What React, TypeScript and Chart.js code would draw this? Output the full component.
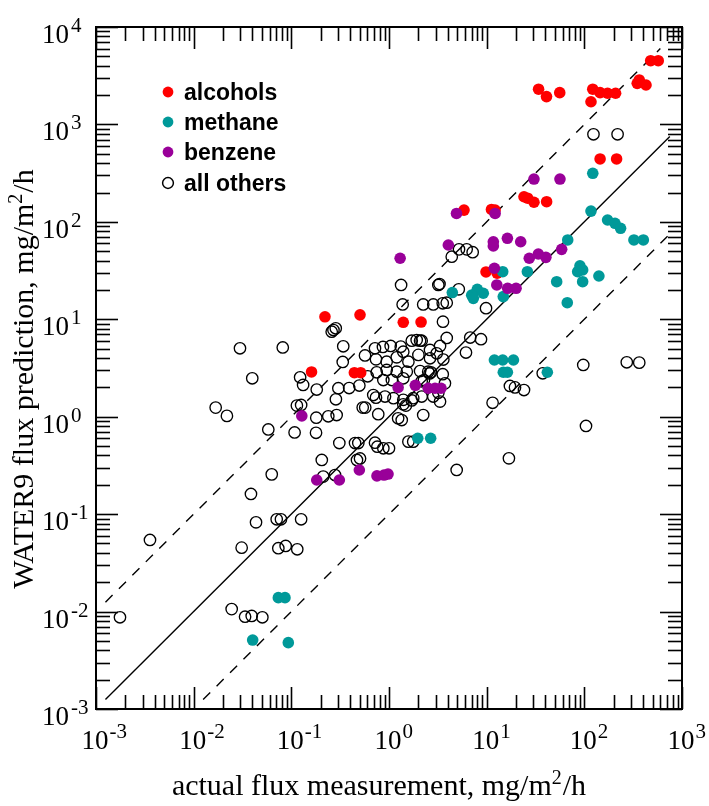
import { useEffect, useRef } from 'react';
import { Chart, registerables } from 'chart.js';

Chart.register(...registerables);

const X_MIN = 1e-3;
const X_MAX = 1e3;
const Y_MIN = 1e-3;
const Y_MAX = 1e4;
const xTickExponents = [-3, -2, -1, 0, 1, 2, 3];
const yTickExponents = [-3, -2, -1, 0, 1, 2, 3, 4];
const minorMultipliers = [2, 3, 4, 5, 6, 7, 8, 9];

const xTitle = 'actual flux measurement, mg/m';
const yTitle = 'WATER9 flux prediction, mg/m';
const titleSup = '2';
const titleTail = '/h';

const legendLabels = ['alcohols', 'methane', 'benzene', 'all others'];
const colors = ['#ff0000', '#009999', '#990099', '#000000'];

// reference lines (1:1 and factor 10)
const lineSolidX = [0.00125, 750];
const lineSolidY = [0.00125, 750];
const lineUpperX = [0.00125, 600];
const lineUpperY = [0.0125, 6000];
const lineLowerX = [0.0125, 720];
const lineLowerY = [0.00125, 72];

const alcoholsX = [34, 41, 56, 122, 145, 173, 209, 117, 348, 365, 428, 478, 571, 145, 214, 24.1, 26.3, 30.5, 41.1, 5.86, 11.2, 12.2, 9.85, 12.8, 1.4, 2.13, 0.221, 0.505, 0.161, 0.442, 0.513];
const alcoholsY = [2300, 1930, 2120, 2300, 2120, 2090, 2090, 1710, 2640, 2860, 2540, 4510, 4510, 442, 442, 181, 175, 159, 161, 132, 134, 132, 30.6, 29.8, 9.31, 9.37, 10.6, 11.1, 2.88, 2.83, 2.83];

const methaneX = [122, 117, 173, 206, 235, 322, 402, 67.6, 52.1, 90.2, 96.1, 85.5, 96.1, 141, 66.9, 26.1, 14.6, 8.02, 7.03, 7.3, 9.23, 14.8, 4.45, 12.0, 14.6, 18.8, 14.8, 16.3, 41.8, 1.97, 2.67, 0.0736, 0.0861, 0.0402, 0.0931];
const methaneY = [315, 129, 104.5, 96.6, 85.9, 65.2, 65.2, 65.2, 24.3, 35.3, 32.1, 30.8, 24.3, 27.8, 14.8, 30.8, 30.8, 20.3, 17.7, 16.4, 18.5, 17.1, 18.8, 3.82, 3.82, 3.82, 2.86, 2.86, 2.86, 0.601, 0.601, 0.0139, 0.0139, 0.0051, 0.0048];

const benzeneX = [30.5, 56.3, 4.91, 12.2, 1.3, 4.05, 11.7, 11.7, 16.3, 22.3, 27.3, 33.8, 40.4, 58.6, 12.0, 12.7, 16.4, 20.0, 1.24, 1.86, 2.52, 2.96, 3.41, 0.128, 0.182, 0.31, 0.497, 0.753, 0.889, 0.977];
const benzeneY = [275, 275, 122, 122, 42.3, 57.9, 62.5, 56.5, 67.8, 62.5, 42.3, 46.8, 43.2, 52.2, 33.4, 22.5, 20.8, 20.8, 2.0, 2.1, 1.96, 1.96, 1.96, 1.02, 0.224, 0.224, 0.284, 0.247, 0.252, 0.258];

const othersX = [
  0.00176, 0.00357, 0.0168, 0.0219, 0.0298, 0.0817, 0.0398, 0.0581, 0.031, 0.0386,
  0.0435, 0.0708, 0.0783, 0.126, 0.0736, 0.0875, 0.115, 0.0245, 0.0336, 0.0393,
  0.0505, 0.063, 0.108, 0.179, 0.18, 0.239, 0.291, 0.114, 0.126, 0.31,
  0.449, 0.485, 0.719, 0.759, 0.875, 1.0, 0.205, 0.47, 0.505, 0.212,
  0.28, 0.259, 0.27, 0.285, 0.34, 0.336, 0.568, 0.719, 0.867, 1.04,
  0.736, 0.123, 0.132, 0.182, 0.303, 0.391, 0.497, 0.605, 0.286, 0.69,
  0.736, 0.538, 0.571, 0.776, 1.33, 3.2, 3.29, 5.18, 1.38, 2.24,
  2.84, 3.55, 3.9, 3.57, 1.32, 1.4, 1.71, 1.92, 2.08, 2.16,
  2.63, 3.33, 3.9, 6.79, 8.75, 6.14, 0.946, 1.2, 1.58, 2.0,
  2.63, 3.6, 9.85, 4.39, 5.21, 6.24, 7.19, 97.5, 272, 365,
  37.5, 17.3, 19.5, 24.1, 11.5, 104, 16.9, 4.93, 124, 219,
  0.748, 0.946, 1.2, 1.52, 2.08, 2.52, 2.69, 2.6, 3.55, 0.875,
  1.07, 1.4, 2.28, 3.74, 0.91, 1.11, 1.4, 1.77, 2.16, 2.84,
  1.4, 1.49, 1.24, 1.35, 2.24, 3.33, 1.58, 1.77, 3.2, 3.08,
  2.16, 1.71,
];
const othersY = [
  0.00873, 0.0543, 1.24, 1.02, 5.04, 5.14, 2.48, 0.74, 0.0453, 0.161,
  0.0824, 0.0885, 0.0885, 0.0885, 0.0447, 0.0471, 0.0436, 0.0106, 0.00885, 0.00901,
  0.00873, 0.256, 0.689, 0.684, 0.977, 1.01, 1.04, 1.3, 1.32, 0.537,
  0.537, 0.537, 0.541, 0.492, 0.474, 0.474, 0.36, 0.36, 0.373, 0.243,
  0.252, 7.46, 7.76, 8.09, 5.28, 3.65, 4.25, 5.04, 5.2, 5.32,
  3.88, 2.54, 2.12, 1.9, 1.96, 1.97, 2.09, 2.6, 1.51, 1.67,
  1.57, 1.24, 1.24, 1.06, 22.5, 22.5, 23.0, 20.3, 14.2, 14.2,
  14.2, 14.6, 14.8, 9.45, 5.24, 4.65, 6.03, 6.12, 6.03, 6.03,
  4.84, 5.32, 6.43, 6.5, 6.24, 4.56, 3.67, 4.07, 3.67, 4.31,
  3.98, 3.86, 13.0, 43.9, 52.2, 52.2, 48.8, 3.4, 3.62, 3.59,
  2.79, 2.07, 2.0, 1.88, 1.39, 0.803, 0.374, 0.284, 792, 792,
  2.86, 3.02, 2.9, 2.9, 2.94, 2.9, 2.86, 2.78, 2.73, 2.38,
  2.38, 2.48, 2.38, 2.2, 1.61, 1.55, 1.49, 1.55, 1.61, 1.61,
  1.34, 1.3, 0.964, 0.925, 1.04, 1.43, 0.555, 0.555, 1.76, 4.48,
  2.31, 1.47,
];

const zip = (xs: number[], ys: number[]) => xs.map((x, i) => ({ x, y: ys[i] }));

const SERIF = '"Liberation Serif", "DejaVu Serif", serif';
const SANS = '"Liberation Sans", Arial, sans-serif';

const framePlugin = {
  id: 'frameTicks',
  afterDraw(chart: any) {
    const { ctx, chartArea: a, scales } = chart;
    const xs = scales.x;
    const ys = scales.y;
    ctx.save();
    ctx.strokeStyle = '#000';
    ctx.fillStyle = '#000';
    const seg = (x1: number, y1: number, x2: number, y2: number) => {
      ctx.beginPath();
      ctx.moveTo(x1, y1);
      ctx.lineTo(x2, y2);
      ctx.stroke();
    };
    const MAJ = 22;
    const MIN = 14;
    ctx.lineWidth = 1.6;
    xTickExponents.forEach((e) => {
      const base = Math.pow(10, e);
      const px = Math.round(xs.getPixelForValue(base)) + 0.5;
      seg(px, a.bottom, px, a.bottom - MAJ);
      seg(px, a.top, px, a.top + MAJ);
      minorMultipliers.forEach((m) => {
        const v = m * base;
        if (v > X_MAX) return;
        const p = Math.round(xs.getPixelForValue(v)) + 0.5;
        seg(p, a.bottom, p, a.bottom - MIN);
        seg(p, a.top, p, a.top + MIN);
      });
    });
    yTickExponents.forEach((e) => {
      const base = Math.pow(10, e);
      const py = Math.round(ys.getPixelForValue(base)) + 0.5;
      seg(a.left, py, a.left + MAJ, py);
      seg(a.right, py, a.right - MAJ, py);
      minorMultipliers.forEach((m) => {
        const v = m * base;
        if (v > Y_MAX) return;
        const p = Math.round(ys.getPixelForValue(v)) + 0.5;
        seg(a.left, p, a.left + MIN, p);
        seg(a.right, p, a.right - MIN, p);
      });
    });
    ctx.lineWidth = 2;
    ctx.strokeRect(a.left, a.top, a.right - a.left, a.bottom - a.top);

    ctx.textBaseline = 'alphabetic';
    xTickExponents.forEach((e) => {
      const px = xs.getPixelForValue(Math.pow(10, e));
      ctx.font = `27px ${SERIF}`;
      ctx.textAlign = 'center';
      ctx.fillText('10', px - 1, a.bottom + 40);
      const w = ctx.measureText('10').width;
      ctx.font = `21px ${SERIF}`;
      ctx.textAlign = 'left';
      ctx.fillText(String(e), px - 1 + w / 2 + 1, a.bottom + 29);
    });
    yTickExponents.forEach((e) => {
      const py = ys.getPixelForValue(Math.pow(10, e));
      ctx.font = `27px ${SERIF}`;
      ctx.textAlign = 'right';
      ctx.fillText('10', 69, py + 16);
      ctx.font = `21px ${SERIF}`;
      ctx.textAlign = 'left';
      ctx.fillText(String(e), 71, py + 5);
    });

    const drawTitle = (main: string, cx: number, cy: number, rot: number) => {
      ctx.save();
      ctx.translate(cx, cy);
      ctx.rotate(rot);
      ctx.font = `30px ${SERIF}`;
      const w1 = ctx.measureText(main).width;
      const w3 = ctx.measureText(titleTail).width;
      ctx.font = `20px ${SERIF}`;
      const w2 = ctx.measureText(titleSup).width;
      const total = w1 + w2 + w3 + 1;
      let x = -total / 2;
      ctx.textAlign = 'left';
      ctx.font = `30px ${SERIF}`;
      ctx.fillText(main, x, 0);
      x += w1;
      ctx.font = `20px ${SERIF}`;
      ctx.fillText(titleSup, x, -11);
      x += w2 + 1;
      ctx.font = `30px ${SERIF}`;
      ctx.fillText(titleTail, x, 0);
      ctx.restore();
    };
    drawTitle(xTitle, 379, 795, 0);
    drawTitle(yTitle, 33, 379, -Math.PI / 2);

    const rows = [92, 122, 152, 183];
    legendLabels.forEach((label, i) => {
      const cy = rows[i];
      ctx.beginPath();
      ctx.arc(168, cy, 5.4, 0, Math.PI * 2);
      if (i < 3) {
        ctx.fillStyle = colors[i];
        ctx.fill();
      } else {
        ctx.lineWidth = 1.5;
        ctx.strokeStyle = '#000';
        ctx.stroke();
      }
      ctx.fillStyle = '#000';
      ctx.font = `bold 23px ${SANS}`;
      ctx.textAlign = 'left';
      ctx.fillText(label, 184, cy + 8);
    });
    ctx.restore();
  },
};

export default function App() {
  const ref = useRef<HTMLCanvasElement | null>(null);
  useEffect(() => {
    document.body.style.margin = '0';
    const canvas = ref.current;
    if (!canvas) return;
    const refLine = (xs: number[], ys: number[], dash: number[]) => ({
      type: 'scatter' as const,
      data: zip(xs, ys),
      showLine: true,
      borderColor: '#000',
      borderWidth: 1.4,
      borderDash: dash,
      pointRadius: 0,
      fill: false,
      order: 10,
    });
    const chart = new Chart(canvas, {
      type: 'scatter',
      data: {
        datasets: [
          refLine(lineSolidX, lineSolidY, []),
          refLine(lineUpperX, lineUpperY, [10, 9]),
          refLine(lineLowerX, lineLowerY, [10, 9]),
          {
            label: legendLabels[3],
            data: zip(othersX, othersY),
            pointRadius: 5.7,
            pointBackgroundColor: 'rgba(0,0,0,0)',
            pointBorderColor: '#000',
            pointBorderWidth: 1.35,
            order: 4,
          },
          {
            label: legendLabels[0],
            data: zip(alcoholsX, alcoholsY),
            pointRadius: 5.8,
            pointBackgroundColor: colors[0],
            pointBorderColor: colors[0],
            pointBorderWidth: 0,
            order: 3,
          },
          {
            label: legendLabels[1],
            data: zip(methaneX, methaneY),
            pointRadius: 5.8,
            pointBackgroundColor: colors[1],
            pointBorderColor: colors[1],
            pointBorderWidth: 0,
            order: 2,
          },
          {
            label: legendLabels[2],
            data: zip(benzeneX, benzeneY),
            pointRadius: 5.8,
            pointBackgroundColor: colors[2],
            pointBorderColor: colors[2],
            pointBorderWidth: 0,
            order: 1,
          },
        ] as any,
      },
      options: {
        responsive: false,
        animation: false,
        layout: { padding: { left: 96, right: 27, top: 27, bottom: 97 } },
        plugins: { legend: { display: false }, tooltip: { enabled: false } },
        scales: {
          x: { type: 'logarithmic', min: X_MIN, max: X_MAX, display: false },
          y: { type: 'logarithmic', min: Y_MIN, max: Y_MAX, display: false },
        },
      },
      plugins: [framePlugin],
    });
    return () => chart.destroy();
  }, []);
  return (
    <canvas
      ref={ref}
      width={709}
      height={806}
      style={{ display: 'block', width: 709, height: 806, background: '#fff' }}
    />
  );
}
